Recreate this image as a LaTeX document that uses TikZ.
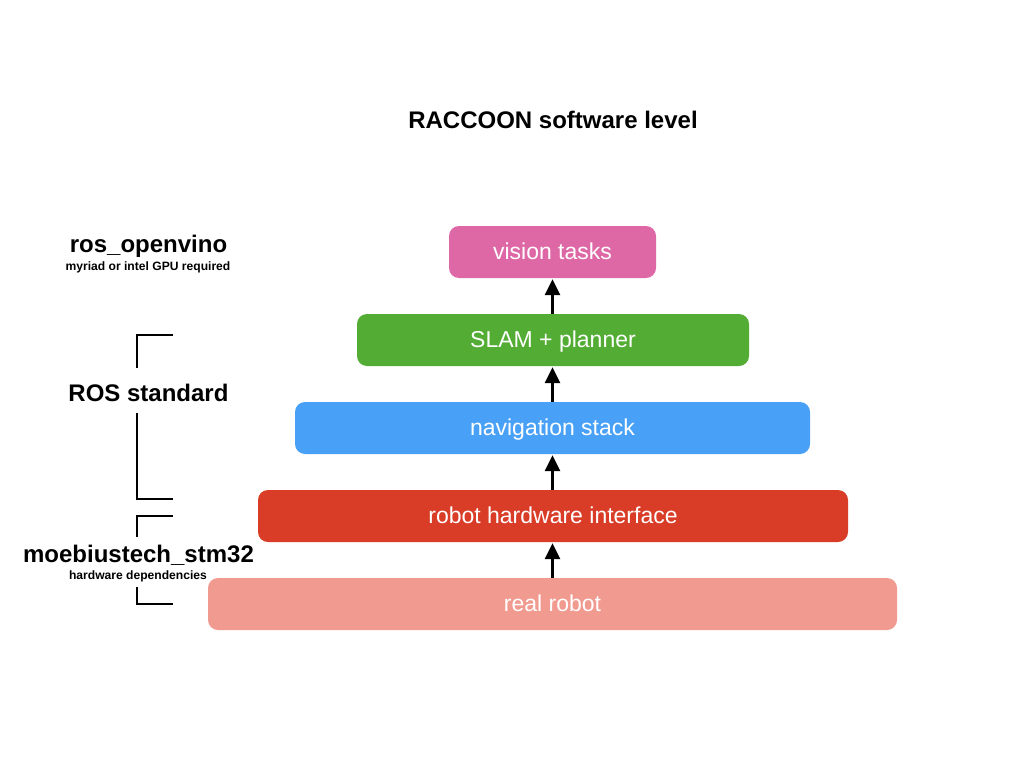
\documentclass[tikz,border=0pt]{standalone}
\usepackage{fontspec}
\setmainfont{Liberation Sans}
\usetikzlibrary{arrows.meta}
\definecolor{cpink}{HTML}{DE68A6}
\definecolor{cgreen}{HTML}{53AD34}
\definecolor{cblue}{HTML}{48A1F6}
\definecolor{cred}{HTML}{D93C27}
\definecolor{csalmon}{HTML}{F19A90}
\tikzset{
  layer/.style={rounded corners=10pt, minimum height=52pt, inner sep=0pt, text=white,
    font=\fontsize{23}{26}\selectfont, text height=17pt, text depth=2pt},
  uparrow/.style={line width=3pt, -{Triangle[width=15pt,length=16pt]}, shorten >=1pt},
  biglabel/.style={font=\fontsize{24}{28}\selectfont\bfseries, inner sep=0pt},
  smalllabel/.style={font=\fontsize{12.1}{14}\selectfont\bfseries, inner sep=0pt},
  bracket/.style={line width=2pt, black}
}
\begin{document}
\begin{tikzpicture}[x=1pt,y=-1pt]
\useasboundingbox (0,0) rectangle (1024,768);
\fill[white] (0,0) rectangle (1024,768);

\node[biglabel] (title) at (553,120) {RACCOON software level};

\node[layer, fill=cpink, minimum width=207pt] (vision) at (552.5,252) {vision tasks};
\node[layer, fill=cgreen, minimum width=392pt] (slam) at (553,340) {SLAM + planner};
\node[layer, fill=cblue, minimum width=515pt] (nav) at (552.5,428) {navigation stack};
\node[layer, fill=cred, minimum width=590pt] (rhi) at (553,516) {robot hardware interface};
\node[layer, fill=csalmon, minimum width=689pt] (real) at (552.5,604) {real robot};

\draw[uparrow] (slam.north -| 552.5,0) -- (vision.south -| 552.5,0);
\draw[uparrow] (nav.north -| 552.5,0) -- (slam.south -| 552.5,0);
\draw[uparrow] (rhi.north -| 552.5,0) -- (nav.south -| 552.5,0);
\draw[uparrow] (real.north -| 552.5,0) -- (rhi.south -| 552.5,0);

\node[biglabel] (ov) at (148.5,246) {ros\_openvino};
\node[smalllabel] (ovs) at (148,267) {myriad or intel GPU required};
\node[biglabel] (ros) at (148.5,393) {ROS standard};
\node[biglabel] (moe) at (138.5,555) {moebiustech\_stm32};
\node[smalllabel] (moes) at (138,576) {hardware dependencies};

\coordinate (r1) at (173,335);
\coordinate (r2) at (137,368);
\coordinate (r3) at (137,413);
\coordinate (r4) at (173,499);
\draw[bracket] (r1) -- (r1 -| r2) -- (r2);
\draw[bracket] (r3) -- (r3 |- r4) -- (r4);
\coordinate (m1) at (173,516);
\coordinate (m2) at (137,537);
\coordinate (m3) at (137,587);
\coordinate (m4) at (173,604);
\draw[bracket] (m1) -- (m1 -| m2) -- (m2);
\draw[bracket] (m3) -- (m3 |- m4) -- (m4);
\end{tikzpicture}
\end{document}
